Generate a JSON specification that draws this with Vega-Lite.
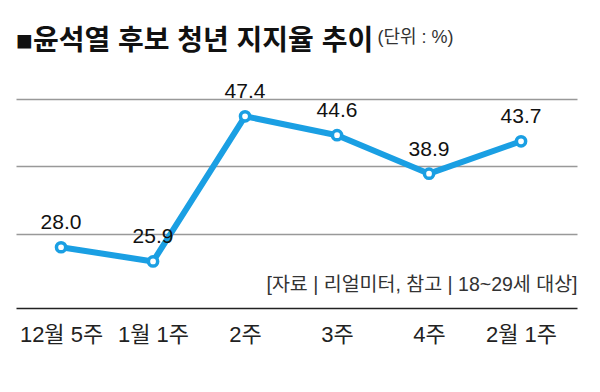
{
  "$schema": "https://vega.github.io/schema/vega-lite/v6.json",
  "width": 561,
  "height": 243,
  "autosize": "none",
  "padding": {"left": 16, "top": 65, "right": 23, "bottom": 84},
  "background": "white",
  "title": {
    "text": "■윤석열 후보 청년 지지율 추이",
    "anchor": "start",
    "frame": "group",
    "orient": "top",
    "offset": 0,
    "dy": 50,
    "baseline": "alphabetic",
    "font": "Liberation Sans, Noto Sans CJK KR",
    "fontSize": 28,
    "fontWeight": "bold",
    "color": "#111111"
  },
  "config": {"view": {"stroke": null}},
  "data": {
    "values": [
      {"week": "12월 5주", "value": 28.0},
      {"week": "1월 1주", "value": 25.9},
      {"week": "2주", "value": 47.4},
      {"week": "3주", "value": 44.6},
      {"week": "4주", "value": 38.9},
      {"week": "2월 1주", "value": 43.7}
    ]
  },
  "encoding": {
    "x": {
      "field": "week",
      "type": "nominal",
      "sort": null,
      "scale": {"type": "point", "padding": 0.549, "align": 0.446},
      "axis": {
        "title": "[자료 | 리얼미터, 참고 | 18~29세 대상]",
        "titleX": 561,
        "titleY": -18,
        "titleAlign": "right",
        "titleBaseline": "alphabetic",
        "titleFont": "Liberation Sans, Noto Sans CJK KR",
        "titleFontSize": 19.5,
        "titleFontWeight": "normal",
        "titleColor": "#333333",
        "labelAngle": 0,
        "labelFont": "Liberation Sans, Noto Sans CJK KR",
        "labelFontSize": 22,
        "labelPadding": 16,
        "labelColor": "#222222",
        "labelOverlap": false,
        "ticks": false,
        "grid": false,
        "domainColor": "#222222",
        "domainWidth": 1.5
      }
    },
    "y": {
      "field": "value",
      "type": "quantitative",
      "scale": {"domain": [19, 55], "nice": false, "zero": false},
      "axis": {
        "values": [30, 40, 50],
        "grid": true,
        "gridColor": "#999999",
        "gridWidth": 1.5,
        "domain": false,
        "ticks": false,
        "labels": false,
        "title": "(단위 : %)",
        "titleAngle": 0,
        "titleX": 361,
        "titleY": -23,
        "titleAlign": "left",
        "titleBaseline": "alphabetic",
        "titleFont": "Liberation Sans, Noto Sans CJK KR",
        "titleFontSize": 18,
        "titleFontWeight": "normal",
        "titleColor": "#333333"
      }
    }
  },
  "layer": [
    {"mark": {"type": "line", "color": "#1a9fe3", "strokeWidth": 6, "strokeJoin": "round", "strokeCap": "round"}},
    {"mark": {"type": "point", "shape": "circle", "filled": true, "fill": "white", "stroke": "#1a9fe3", "strokeWidth": 3.5, "size": 85, "opacity": 1}},
    {
      "mark": {"type": "text", "dy": -18, "baseline": "alphabetic", "fontSize": 21, "font": "Liberation Sans", "color": "#111111"},
      "encoding": {"text": {"field": "value", "type": "quantitative", "format": ".1f"}}
    }
  ]
}
